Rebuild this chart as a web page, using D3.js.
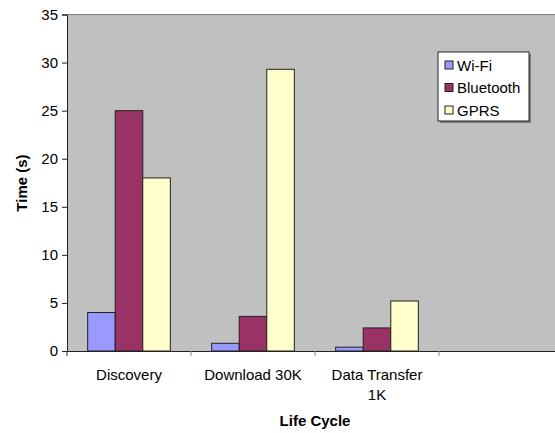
<!DOCTYPE html>
<html>
<head>
<meta charset="utf-8">
<script src="https://cdn.jsdelivr.net/npm/d3@7"></script>
<style>
  body { margin: 0; background: #fff; }
  svg { display: block; font-family: Arial, "Liberation Sans", sans-serif; }
</style>
</head>
<body>
<div id="chart"></div>
<script>
// categories (4th slot is empty in the original chart)
const categories = ["Discovery", "Download 30K", "Data Transfer\n1K", ""];
const seriesNames = ["Wi-Fi", "Bluetooth", "GPRS"];
const wifi = [4, 0.8, 0.4];
const bluetooth = [25, 3.6, 2.4];
const gprs = [18, 29.3, 5.2];
const yTicks = [0, 5, 10, 15, 20, 25, 30, 35];
const colors = ["#9999ff", "#993366", "#ffffcc"];

const seriesValues = [wifi, bluetooth, gprs];

const margin = { top: 14.5, left: 67 },
  width = 496,
  height = 336.5;

const svg = d3
  .select("#chart")
  .append("svg")
  .attr("width", 555)
  .attr("height", 433);

const g = svg.append("g").attr("transform", `translate(${margin.left},${margin.top})`);

// scales
const x = d3.scaleBand().domain(categories).range([0, width]);
const y = d3.scaleLinear().domain([0, 35]).range([height, 0]);

// plot area
g.append("rect")
  .attr("width", width)
  .attr("height", height)
  .attr("fill", "#c0c0c0");

g.append("line")
  .attr("x1", 0)
  .attr("x2", width)
  .attr("stroke", "#808080")
  .attr("stroke-width", 1);

// bars - excel style: gap width 150%
const barW = x.bandwidth() / 4.5;
const xSub = d3
  .scaleBand()
  .domain(seriesNames)
  .range([barW * 0.75, barW * 3.75]);

const rows = categories
  .map((c, i) => ({ cat: c, vals: seriesValues.map((s, j) => ({ name: seriesNames[j], v: s[i], c: colors[j] })) }))
  .filter((d) => d.vals[0].v !== undefined);

g.selectAll("g.grp")
  .data(rows)
  .enter()
  .append("g")
  .attr("class", "grp")
  .attr("transform", (d) => `translate(${x(d.cat)},0)`)
  .selectAll("rect")
  .data((d) => d.vals)
  .enter()
  .append("rect")
  .attr("x", (d) => xSub(d.name))
  .attr("y", (d) => y(d.v))
  .attr("width", xSub.bandwidth())
  .attr("height", (d) => height - y(d.v))
  .attr("fill", (d) => d.c)
  .attr("stroke", "#222")
  .attr("stroke-width", 1);

// y axis
const yAxis = g
  .append("g")
  .call(d3.axisLeft(y).tickValues(yTicks).tickSize(5).tickPadding(4));
yAxis.select(".domain").attr("stroke", "#222");
yAxis.selectAll(".tick line").attr("stroke", "#222");
yAxis.selectAll("text").attr("font-size", 15).attr("fill", "#000").attr("font-family", "Arial, 'Liberation Sans', sans-serif");

// x axis
const xAxis = g
  .append("g")
  .attr("transform", `translate(0,${height})`)
  .call(d3.axisBottom(x).tickValues([]).tickSizeOuter(0));
xAxis.select(".domain").attr("stroke", "#222");
const edges = categories.map((c) => x(c));
xAxis
  .selectAll("line.edge")
  .data(edges)
  .enter()
  .append("line")
  .attr("class", "edge")
  .attr("x1", (d) => d)
  .attr("x2", (d) => d)
  .attr("y1", 0)
  .attr("y2", 5)
  .attr("stroke", (d, i) => (i === 0 ? "#222" : "#888"));

// category labels
categories.forEach((c) => {
  const lines = c.split("\n");
  const t = g
    .append("text")
    .attr("x", x(c) + x.bandwidth() / 2)
    .attr("y", height + 29)
    .attr("text-anchor", "middle")
    .attr("font-size", 15)
    .attr("fill", "#000");
  lines.forEach((l, i) => {
    t.append("tspan")
      .attr("x", x(c) + x.bandwidth() / 2)
      .attr("dy", i === 0 ? 0 : 20)
      .text(l);
  });
});

// axis titles
svg
  .append("text")
  .attr("transform", "rotate(-90)")
  .attr("x", -183)
  .attr("y", 27)
  .attr("text-anchor", "middle")
  .attr("font-size", 15)
  .attr("font-weight", "bold")
  .text("Time (s)");

svg
  .append("text")
  .attr("x", 315)
  .attr("y", 426)
  .attr("text-anchor", "middle")
  .attr("font-size", 15)
  .attr("font-weight", "bold")
  .text("Life Cycle");

// legend
const legend = svg.append("g").attr("transform", "translate(438,52)");
legend
  .append("rect")
  .attr("x", 2)
  .attr("y", 2)
  .attr("width", 91)
  .attr("height", 69)
  .attr("fill", "#808080");
legend
  .append("rect")
  .attr("width", 91)
  .attr("height", 69)
  .attr("fill", "#fff")
  .attr("stroke", "#222");

const item = legend
  .selectAll("g.item")
  .data(seriesNames)
  .enter()
  .append("g")
  .attr("class", "item")
  .attr("transform", (d, i) => `translate(7,${13 + i * 22.5})`);
item
  .append("rect")
  .attr("y", -4)
  .attr("width", 8)
  .attr("height", 8)
  .attr("fill", (d, i) => colors[i])
  .attr("stroke", "#222");
item
  .append("text")
  .attr("x", 12)
  .attr("y", 5.5)
  .attr("font-size", 15)
  .text((d) => d);
</script>
</body>
</html>
